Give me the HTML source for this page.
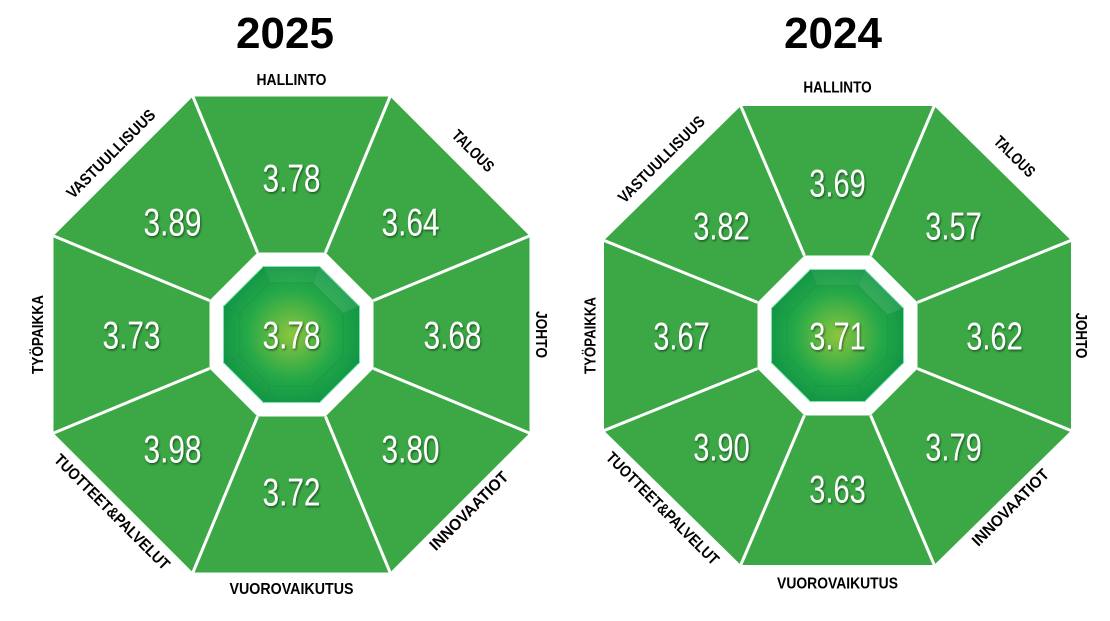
<!DOCTYPE html>
<html><head><meta charset="utf-8"><style>
html,body{margin:0;padding:0;background:#fff;width:1110px;height:621px;overflow:hidden}
svg{display:block}
.lab{font-family:"Liberation Sans Narrow","Liberation Sans",sans-serif;font-weight:bold;font-size:16px;fill:#000}
.num{font-family:"Liberation Sans Narrow","Liberation Sans",sans-serif;font-size:39px;fill:#fff}
.ttl{font-family:"Liberation Sans",sans-serif;font-weight:bold;font-size:44px;fill:#000}
</style></head><body>
<svg id="s" width="1110" height="621" viewBox="0 0 1110 621" xmlns="http://www.w3.org/2000/svg">
<defs>
<radialGradient id="gg" cx="50%" cy="50%" r="55%"><stop offset="0" stop-color="#8cc63e"/><stop offset="0.6" stop-color="#25a848"/><stop offset="1" stop-color="#0f9444"/></radialGradient>
<filter id="sh"><feDropShadow dx="1" dy="1.5" stdDeviation="1" flood-color="#000" flood-opacity="0.5"/></filter>
</defs>
<text class="ttl" x="285" y="48" text-anchor="middle">2025</text>
<text class="ttl" x="833" y="48" text-anchor="middle">2024</text>
</svg>
<script>
var s=document.getElementById('s'),NS='http://www.w3.org/2000/svg';
function el(t,a,txt){var e=document.createElementNS(NS,t);for(var k in a)e.setAttribute(k,a[k]);if(txt)e.textContent=txt;s.appendChild(e);return e;}
function oct(cx,cy,h,hy){hy=hy||h;var R=h/Math.cos(Math.PI/8),Ry=hy/Math.cos(Math.PI/8),p=[];for(var k=0;k<8;k++){var a=-Math.PI/2-Math.PI/8+k*Math.PI/4;p.push([cx+R*Math.cos(a),cy+Ry*Math.sin(a)]);}return p;}
function ps(p){return p.map(function(q){return q[0].toFixed(1)+','+q[1].toFixed(1)}).join(' ');}
function chart(cx,cy,h,hy,hw,hg,vals,c){
 var o=oct(cx,cy,h,hy);el('polygon',{points:ps(o),fill:'#3ba845'});
 var w=oct(cx,cy,hw);el('polygon',{points:ps(w),fill:'#fff'});
 for(var k=0;k<8;k++)el('line',{x1:w[k][0],y1:w[k][1],x2:o[k][0],y2:o[k][1],stroke:'#fff','stroke-width':3});
 var g=oct(cx,cy,hg);el('polygon',{points:ps(g),fill:'url(#gg)',stroke:'#7fe3b0','stroke-width':1});
 var gi=oct(cx,cy,hg*0.76);el('polygon',{points:ps(gi),fill:'none',stroke:'#1a8f4a','stroke-opacity':0.5,'stroke-width':1});
 for(var k=0;k<8;k++)el('line',{x1:gi[k][0],y1:gi[k][1],x2:g[k][0],y2:g[k][1],stroke:'#1a8f4a','stroke-opacity':0.4,'stroke-width':1});
 el('polygon',{points:ps([g[1],g[2],gi[2],gi[1]]),fill:'#fff','fill-opacity':0.1});
 el('polygon',{points:ps([g[0],g[1],gi[1],gi[0]]),fill:'#fff','fill-opacity':0.06});
 var pos=[[0,0],[0,-157],[119,-113],[161,0],[119,114],[0,157],[-119,114],[-160,0],[-119,-113]];
 for(var i=0;i<9;i++)el('text',{class:'num',x:cx+pos[i][0]*c,y:cy+pos[i][1]*c+14,'text-anchor':'middle',textLength:(58*c).toFixed(1),lengthAdjust:'spacingAndGlyphs',filter:'url(#sh)'},vals[i]);
 var L=[['HALLINTO',0,-254,0,70],['TALOUS',181,-183,45,52],['JOHTO',249,0,90,47],['INNOVAATIOT',178,177,-45,104],['VUOROVAIKUTUS',0,255,0,124],['TUOTTEET&PALVELUT',-180,178,45,156],['TYÖPAIKKA',-253,0,-90,79],['VASTUULLISUUS',-180,-180,-45,118]];
 L.forEach(function(l){el('text',{class:'lab',x:0,y:0,'text-anchor':'middle','dominant-baseline':'central',textLength:(l[4]*c).toFixed(1),lengthAdjust:'spacingAndGlyphs',transform:'translate('+(cx+l[1]*c).toFixed(1)+','+(cy+l[2]*c).toFixed(1)+') rotate('+l[3]+')'},l[0]);});
}
chart(291.5,334.5,238,238,82,68,['3.78','3.78','3.64','3.68','3.80','3.72','3.98','3.73','3.89'],1);
chart(837.5,335.5,233.5,229.5,80,66,['3.71','3.69','3.57','3.62','3.79','3.63','3.90','3.67','3.82'],0.975);
</script>
</body></html>
